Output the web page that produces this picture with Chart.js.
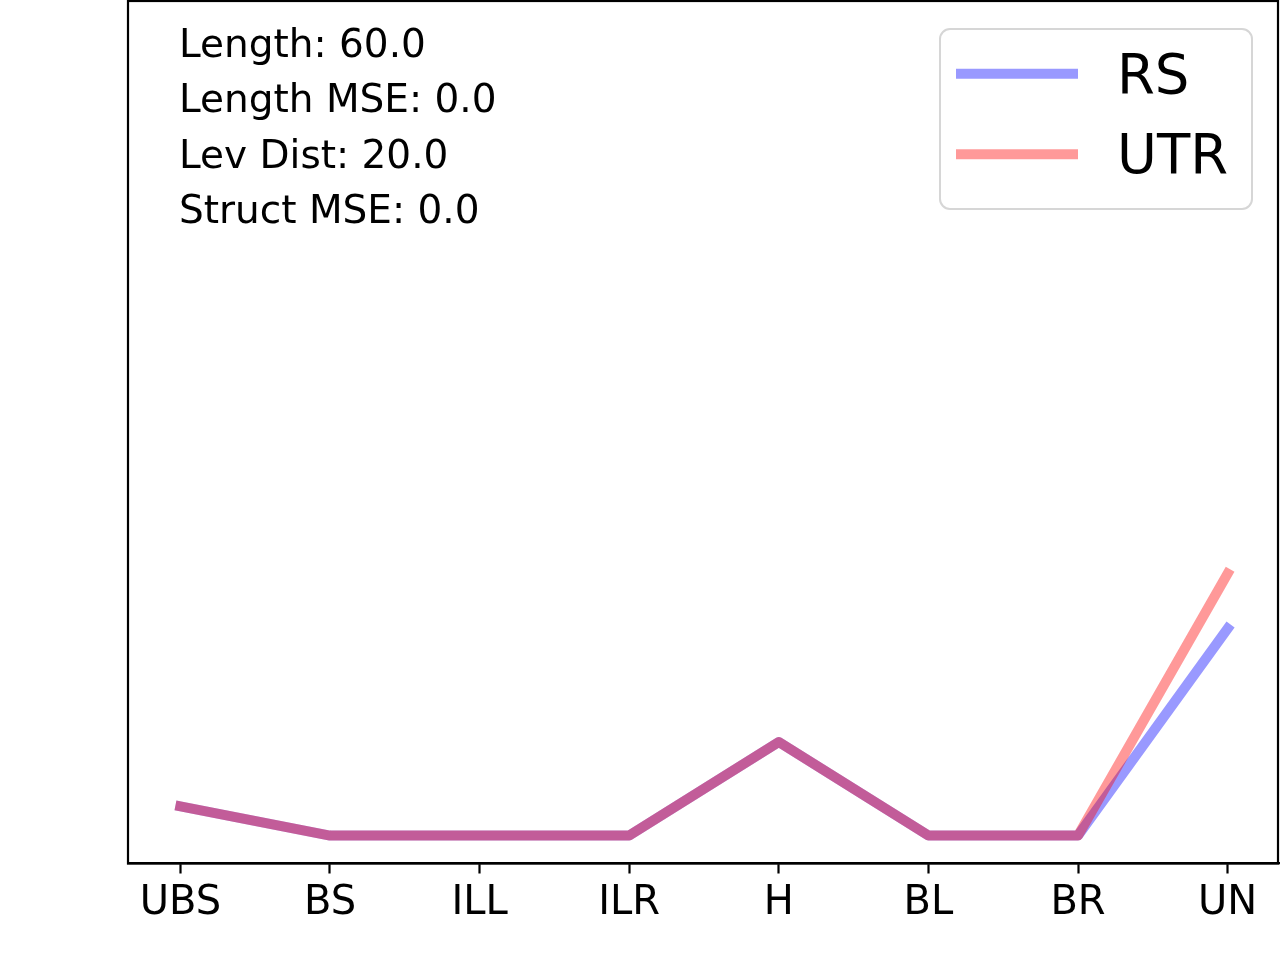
<!DOCTYPE html>
<html>
<head>
<meta charset="utf-8">
<script src="https://cdn.jsdelivr.net/npm/chart.js@4"></script>
<style>
  body { margin: 0; background: #fff; }
  canvas { display: block; }
</style>
</head>
<body>
<canvas id="chart" width="1280" height="960"></canvas>
<script>
// Tick labels along the x axis
const categories = ['UBS', 'BS', 'ILL', 'ILR', 'H', 'BL', 'BR', 'UN'];

// Series values (y axis has no ticks)
const rsValues  = [0.035, 0, 0, 0, 0.112, 0, 0, 0.248];
const utrValues = [0.035, 0, 0, 0, 0.112, 0, 0, 0.314];

// Text block in the top left corner
const statLines = ['Length: 60.0', 'Length MSE: 0.0', 'Lev Dist: 20.0', 'Struct MSE: 0.0'];

const seriesNames = ['RS', 'UTR'];

const FONT = '"DejaVu Sans", "Liberation Sans", sans-serif';

function toPoints(values) {
    return values.map((v, i) => ({ x: i, y: v }));
}

// frame (all four spines), stats text and a matplotlib-like legend
const decorPlugin = {
    id: 'decor',
    afterDraw(chart) {
        const ctx = chart.ctx;
        const a = chart.chartArea;
        ctx.save();

        ctx.strokeStyle = '#000';
        ctx.lineWidth = 2.2;
        ctx.strokeRect(a.left, a.top, 1278 - a.left, a.bottom - a.top);

        ctx.fillStyle = '#000';
        ctx.font = '39px ' + FONT;
        ctx.textAlign = 'left';
        ctx.textBaseline = 'alphabetic';
        statLines.forEach((line, i) => {
            ctx.fillText(line, 179, 56.7 + i * 55.5);
        });

        // legend box
        const bx = 940, by = 29, bw = 312, bh = 180, r = 10;
        ctx.beginPath();
        ctx.moveTo(bx + r, by);
        ctx.arcTo(bx + bw, by, bx + bw, by + bh, r);
        ctx.arcTo(bx + bw, by + bh, bx, by + bh, r);
        ctx.arcTo(bx, by + bh, bx, by, r);
        ctx.arcTo(bx, by, bx + bw, by, r);
        ctx.closePath();
        ctx.fillStyle = 'rgba(255,255,255,0.8)';
        ctx.fill();
        ctx.strokeStyle = '#d6d6d6';
        ctx.lineWidth = 2;
        ctx.stroke();

        const ds = chart.data.datasets;
        const rows = [73.7, 154.3];
        seriesNames.forEach((name, i) => {
            const d = ds.find(s => s.label === name);
            ctx.beginPath();
            ctx.moveTo(956, rows[i]);
            ctx.lineTo(1078, rows[i]);
            ctx.strokeStyle = d.borderColor;
            ctx.lineWidth = 10;
            ctx.lineCap = 'butt';
            ctx.stroke();
            ctx.fillStyle = '#000';
            ctx.font = '54.5px ' + FONT;
            ctx.fillText(name, 1117, rows[i] + 19);
        });
        ctx.restore();
    }
};

new Chart(document.getElementById('chart'), {
    type: 'line',
    data: {
        datasets: [
            {
                label: 'RS',
                data: toPoints(rsValues),
                borderColor: 'rgba(0, 0, 255, 0.4)',
                borderWidth: 10,
                borderCapStyle: 'square',
                borderJoinStyle: 'round',
                pointRadius: 0,
                tension: 0,
                order: 1
            },
            {
                label: 'UTR',
                data: toPoints(utrValues),
                borderColor: 'rgba(255, 0, 0, 0.4)',
                borderWidth: 10,
                borderCapStyle: 'square',
                borderJoinStyle: 'round',
                pointRadius: 0,
                tension: 0,
                order: 0
            }
        ]
    },
    options: {
        responsive: false,
        animation: false,
        devicePixelRatio: 1,
        layout: { padding: { left: 128, right: 0, top: 1, bottom: 0 } },
        plugins: {
            legend: { display: false },
            tooltip: { enabled: false }
        },
        scales: {
            x: {
                type: 'linear',
                min: -0.35,
                max: 7.35,
                afterBuildTicks: (scale) => {
                    scale.ticks = categories.map((c, i) => ({ value: i }));
                },
                afterFit: (scale) => { scale.height = 96.5; },
                grid: {
                    drawOnChartArea: false,
                    drawTicks: true,
                    tickLength: 10,
                    tickWidth: 2.2,
                    tickColor: '#000'
                },
                border: { display: true, color: '#000', width: 2.2 },
                ticks: {
                    autoSkip: false,
                    maxRotation: 0,
                    padding: 6,
                    color: '#000',
                    font: { family: FONT, size: 40 },
                    callback: (v) => categories[v]
                }
            },
            y: {
                display: false,
                min: -0.0335,
                max: 1.0
            }
        }
    },
    plugins: [decorPlugin]
});
</script>
</body>
</html>
